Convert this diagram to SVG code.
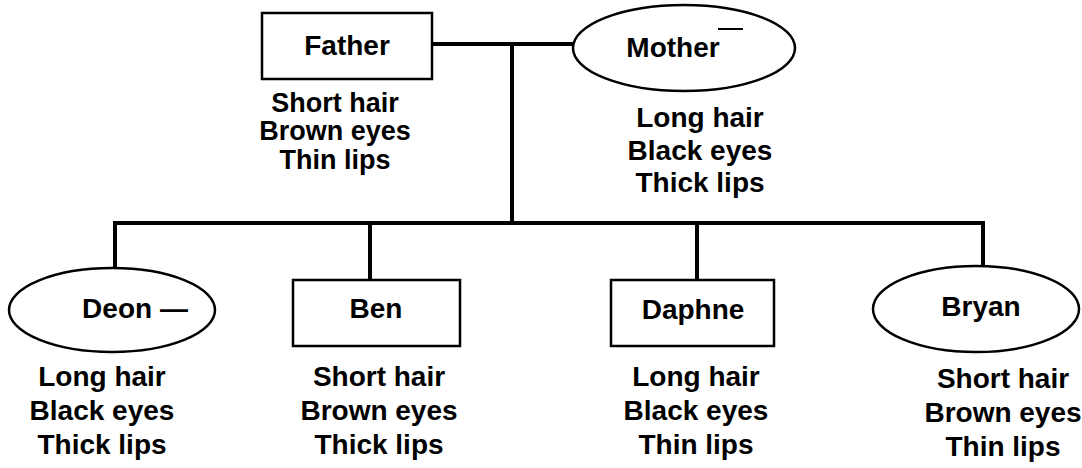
<svg xmlns="http://www.w3.org/2000/svg" width="1082" height="468" viewBox="0 0 1082 468">
<style>
.bg{fill:#fff}
.shape{fill:#fff;stroke:#000;stroke-width:2.5}
.conn{stroke:#000;stroke-width:4;fill:none;stroke-linecap:square}
.name{font-family:"Liberation Sans",Arial,sans-serif;font-weight:bold;font-size:28px;fill:#000;text-anchor:middle}
.attr{font-family:"Liberation Sans",Arial,sans-serif;font-weight:bold;font-size:28px;fill:#000;text-anchor:middle}
.attr.tight{font-size:27px}
</style>
<rect class="bg" x="0" y="0" width="1082" height="468"/>
<g id="connectors">
<line class="conn" x1="432" y1="44" x2="573" y2="44"/>
<line class="conn" x1="512" y1="44" x2="512" y2="223"/>
<line class="conn" x1="115" y1="223" x2="983" y2="223"/>
<line class="conn" x1="115" y1="223" x2="115" y2="268"/>
<line class="conn" x1="370" y1="223" x2="370" y2="280"/>
<line class="conn" x1="697" y1="223" x2="697" y2="280"/>
<line class="conn" x1="983" y1="223" x2="983" y2="266"/>
</g>
<g id="father">
<rect class="shape" x="262" y="13" width="170" height="66"/>
<text class="name" x="347" y="55">Father</text>
<text class="attr tight" x="335" y="112">Short hair</text>
<text class="attr tight" x="335" y="140">Brown eyes</text>
<text class="attr tight" x="335" y="169">Thin lips</text>
</g>
<g id="mother">
<ellipse class="shape" cx="684" cy="48" rx="111" ry="43"/>
<text class="name" x="673" y="57">Mother</text>
<line x1="718" y1="29" x2="743" y2="29" stroke="#000" stroke-width="2"/>
<text class="attr" x="700" y="127">Long hair</text>
<text class="attr" x="700" y="160">Black eyes</text>
<text class="attr" x="700" y="192">Thick lips</text>
</g>
<g id="deon">
<ellipse class="shape" cx="112" cy="310" rx="103" ry="42"/>
<text class="name" x="135" y="318">Deon —</text>
<text class="attr" x="102" y="386">Long hair</text>
<text class="attr" x="102" y="420">Black eyes</text>
<text class="attr" x="102" y="454">Thick lips</text>
</g>
<g id="ben">
<rect class="shape" x="293" y="280" width="167" height="66"/>
<text class="name" x="376" y="318">Ben</text>
<text class="attr" x="379" y="386">Short hair</text>
<text class="attr" x="379" y="420">Brown eyes</text>
<text class="attr" x="379" y="454">Thick lips</text>
</g>
<g id="daphne">
<rect class="shape" x="611" y="280" width="163" height="66"/>
<text class="name" x="693" y="319">Daphne</text>
<text class="attr" x="696" y="386">Long hair</text>
<text class="attr" x="696" y="420">Black eyes</text>
<text class="attr" x="696" y="454">Thin lips</text>
</g>
<g id="bryan">
<ellipse class="shape" cx="976" cy="309" rx="103" ry="43"/>
<text class="name" x="981" y="316">Bryan</text>
<text class="attr" x="1003" y="388">Short hair</text>
<text class="attr" x="1003" y="422">Brown eyes</text>
<text class="attr" x="1003" y="456">Thin lips</text>
</g>
</svg>
